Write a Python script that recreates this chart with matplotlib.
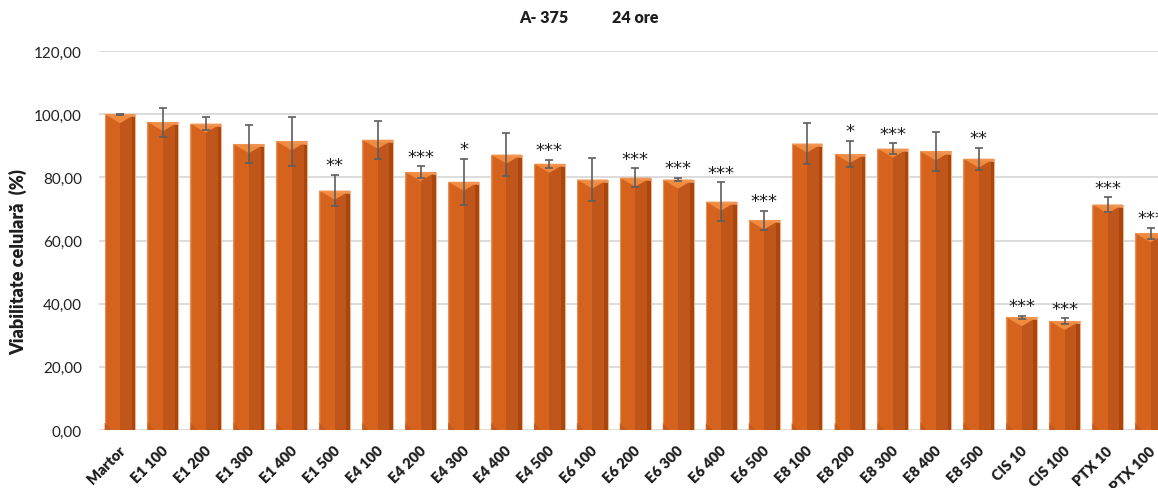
import matplotlib
matplotlib.use("Agg")
import matplotlib.pyplot as plt
from matplotlib.patches import Polygon, Rectangle
from matplotlib.ticker import FuncFormatter
from matplotlib.transforms import ScaledTranslation

categories = ["Martor", "E1 100", "E1 200", "E1 300", "E1 400", "E1 500",
              "E4 100", "E4 200", "E4 300", "E4 400", "E4 500",
              "E6 100", "E6 200", "E6 300", "E6 400", "E6 500",
              "E8 100", "E8 200", "E8 300", "E8 400", "E8 500",
              "CIS 10", "CIS 100", "PTX 10", "PTX 100"]
viability = [100.0, 97.5, 97.0, 90.5, 91.4, 75.8,
             91.9, 81.7, 78.6, 87.2, 84.3,
             79.3, 79.9, 79.3, 72.3, 66.4,
             90.7, 87.4, 89.1, 88.2, 85.9,
             35.7, 34.5, 71.4, 62.3]
errors = [0.1, 4.6, 2.0, 6.0, 7.8, 5.0,
          6.0, 1.8, 7.3, 6.8, 1.2,
          6.9, 3.0, 0.5, 6.1, 3.1,
          6.6, 4.1, 1.7, 6.2, 3.5,
          0.5, 0.9, 2.3, 1.7]
significance = ["", "", "", "", "", "**",
                "", "***", "*", "", "***",
                "", "***", "***", "***", "***",
                "", "*", "***", "", "**",
                "***", "***", "***", "***"]
y_ticks = [0, 20, 40, 60, 80, 100, 120]

plt.rcParams['font.family'] = ['Lato', 'DejaVu Sans']

fig = plt.figure(figsize=(11.58, 4.89), dpi=100)
ax = fig.add_axes([0.0851, 0.1186, 0.927, 0.775])

x = list(range(len(categories)))
bars = ax.bar(x, viability, width=0.72, color="#D5621D", zorder=2,
              edgecolor="#F2B48A", linewidth=0.8)

# Bevelled, shaded look on each bar, built from the bar's own geometry
px_per_unit = 379 / 120.0
for b in bars:
    x0, w, h = b.get_x(), b.get_width(), b.get_height()
    xm = x0 + w / 2
    bevel = 9.0 / px_per_unit
    ax.add_patch(Rectangle((xm, 0), w / 2, h, color="#C1561A", zorder=2.1, lw=0))
    ax.add_patch(Rectangle((x0 + w * 0.88, 0), w * 0.12, h, color="#A9470F", zorder=2.2, lw=0))
    ax.add_patch(Rectangle((x0, 0), w * 0.05, h, color="#E07A3A", zorder=2.2, lw=0, alpha=0.6))
    ax.add_patch(Polygon([(x0, h), (x0 + w, h), (xm, h - bevel)],
                         closed=True, color="#EF8A3E", zorder=2.3, lw=0))
    ax.add_patch(Polygon([(x0, h), (x0 + w, h), (x0 + w, h - 0.35 * bevel)],
                         closed=True, color="#F29552", zorder=2.35, lw=0))
    ax.add_patch(Polygon([(x0, 0), (x0 + w * 0.22, 0), (x0, bevel * 0.8)],
                         closed=True, color="#C0581F", zorder=2.3, lw=0, alpha=0.8))

ax.errorbar(x, viability, yerr=errors, fmt="none", ecolor="#5E5E5E",
            elinewidth=1.2, capsize=3.2, capthick=1.2, zorder=4)

for xi, v, e, s in zip(x, viability, errors, significance):
    if s:
        ax.annotate(s, xy=(xi, v + e), xytext=(0, 0.5), textcoords="offset points",
                    ha="center", va="bottom", fontsize=13, color="#1E1E1E",
                    zorder=5, family=["DejaVu Sans"])

ax.set_xlim(-0.5, len(categories) - 0.5)
ax.set_ylim(0, 120)
ax.set_yticks(y_ticks)
ax.yaxis.set_major_formatter(FuncFormatter(lambda v, p: f"{v:.2f}".replace(".", ",")))
ax.grid(axis="y", color="#D9D9D9", linewidth=1.3, zorder=0)
ax.set_axisbelow(True)
for sp in ax.spines.values():
    sp.set_visible(False)
ax.tick_params(axis="both", length=0)
ax.tick_params(axis="y", labelsize=11, pad=12, labelcolor="#222222")

ax.set_xticks(x)
ax.set_xticklabels(categories, rotation=45, ha="right", va="center",
                   rotation_mode="anchor", fontsize=10.5, fontweight="heavy",
                   color="#1E1E1E")
ax.tick_params(axis="x", pad=13)
shift = ScaledTranslation(3 / 100, 0, fig.dpi_scale_trans)
for lbl in ax.get_xticklabels():
    lbl.set_transform(lbl.get_transform() + shift)

ax.set_ylabel("Viabilitate celulară  (%)", fontsize=13, fontweight="heavy",
              color="#1E1E1E")
ax.yaxis.set_label_coords(-0.066, 0.446)

fig.text(0.470, 0.963, "A- 375", ha="center", va="center",
         fontsize=11.5, fontweight="heavy", color="#1E1E1E")
fig.text(0.549, 0.963, "24 ore", ha="center", va="center",
         fontsize=11.5, fontweight="heavy", color="#1E1E1E")

fig.savefig("out.png", dpi=100, facecolor="white")
